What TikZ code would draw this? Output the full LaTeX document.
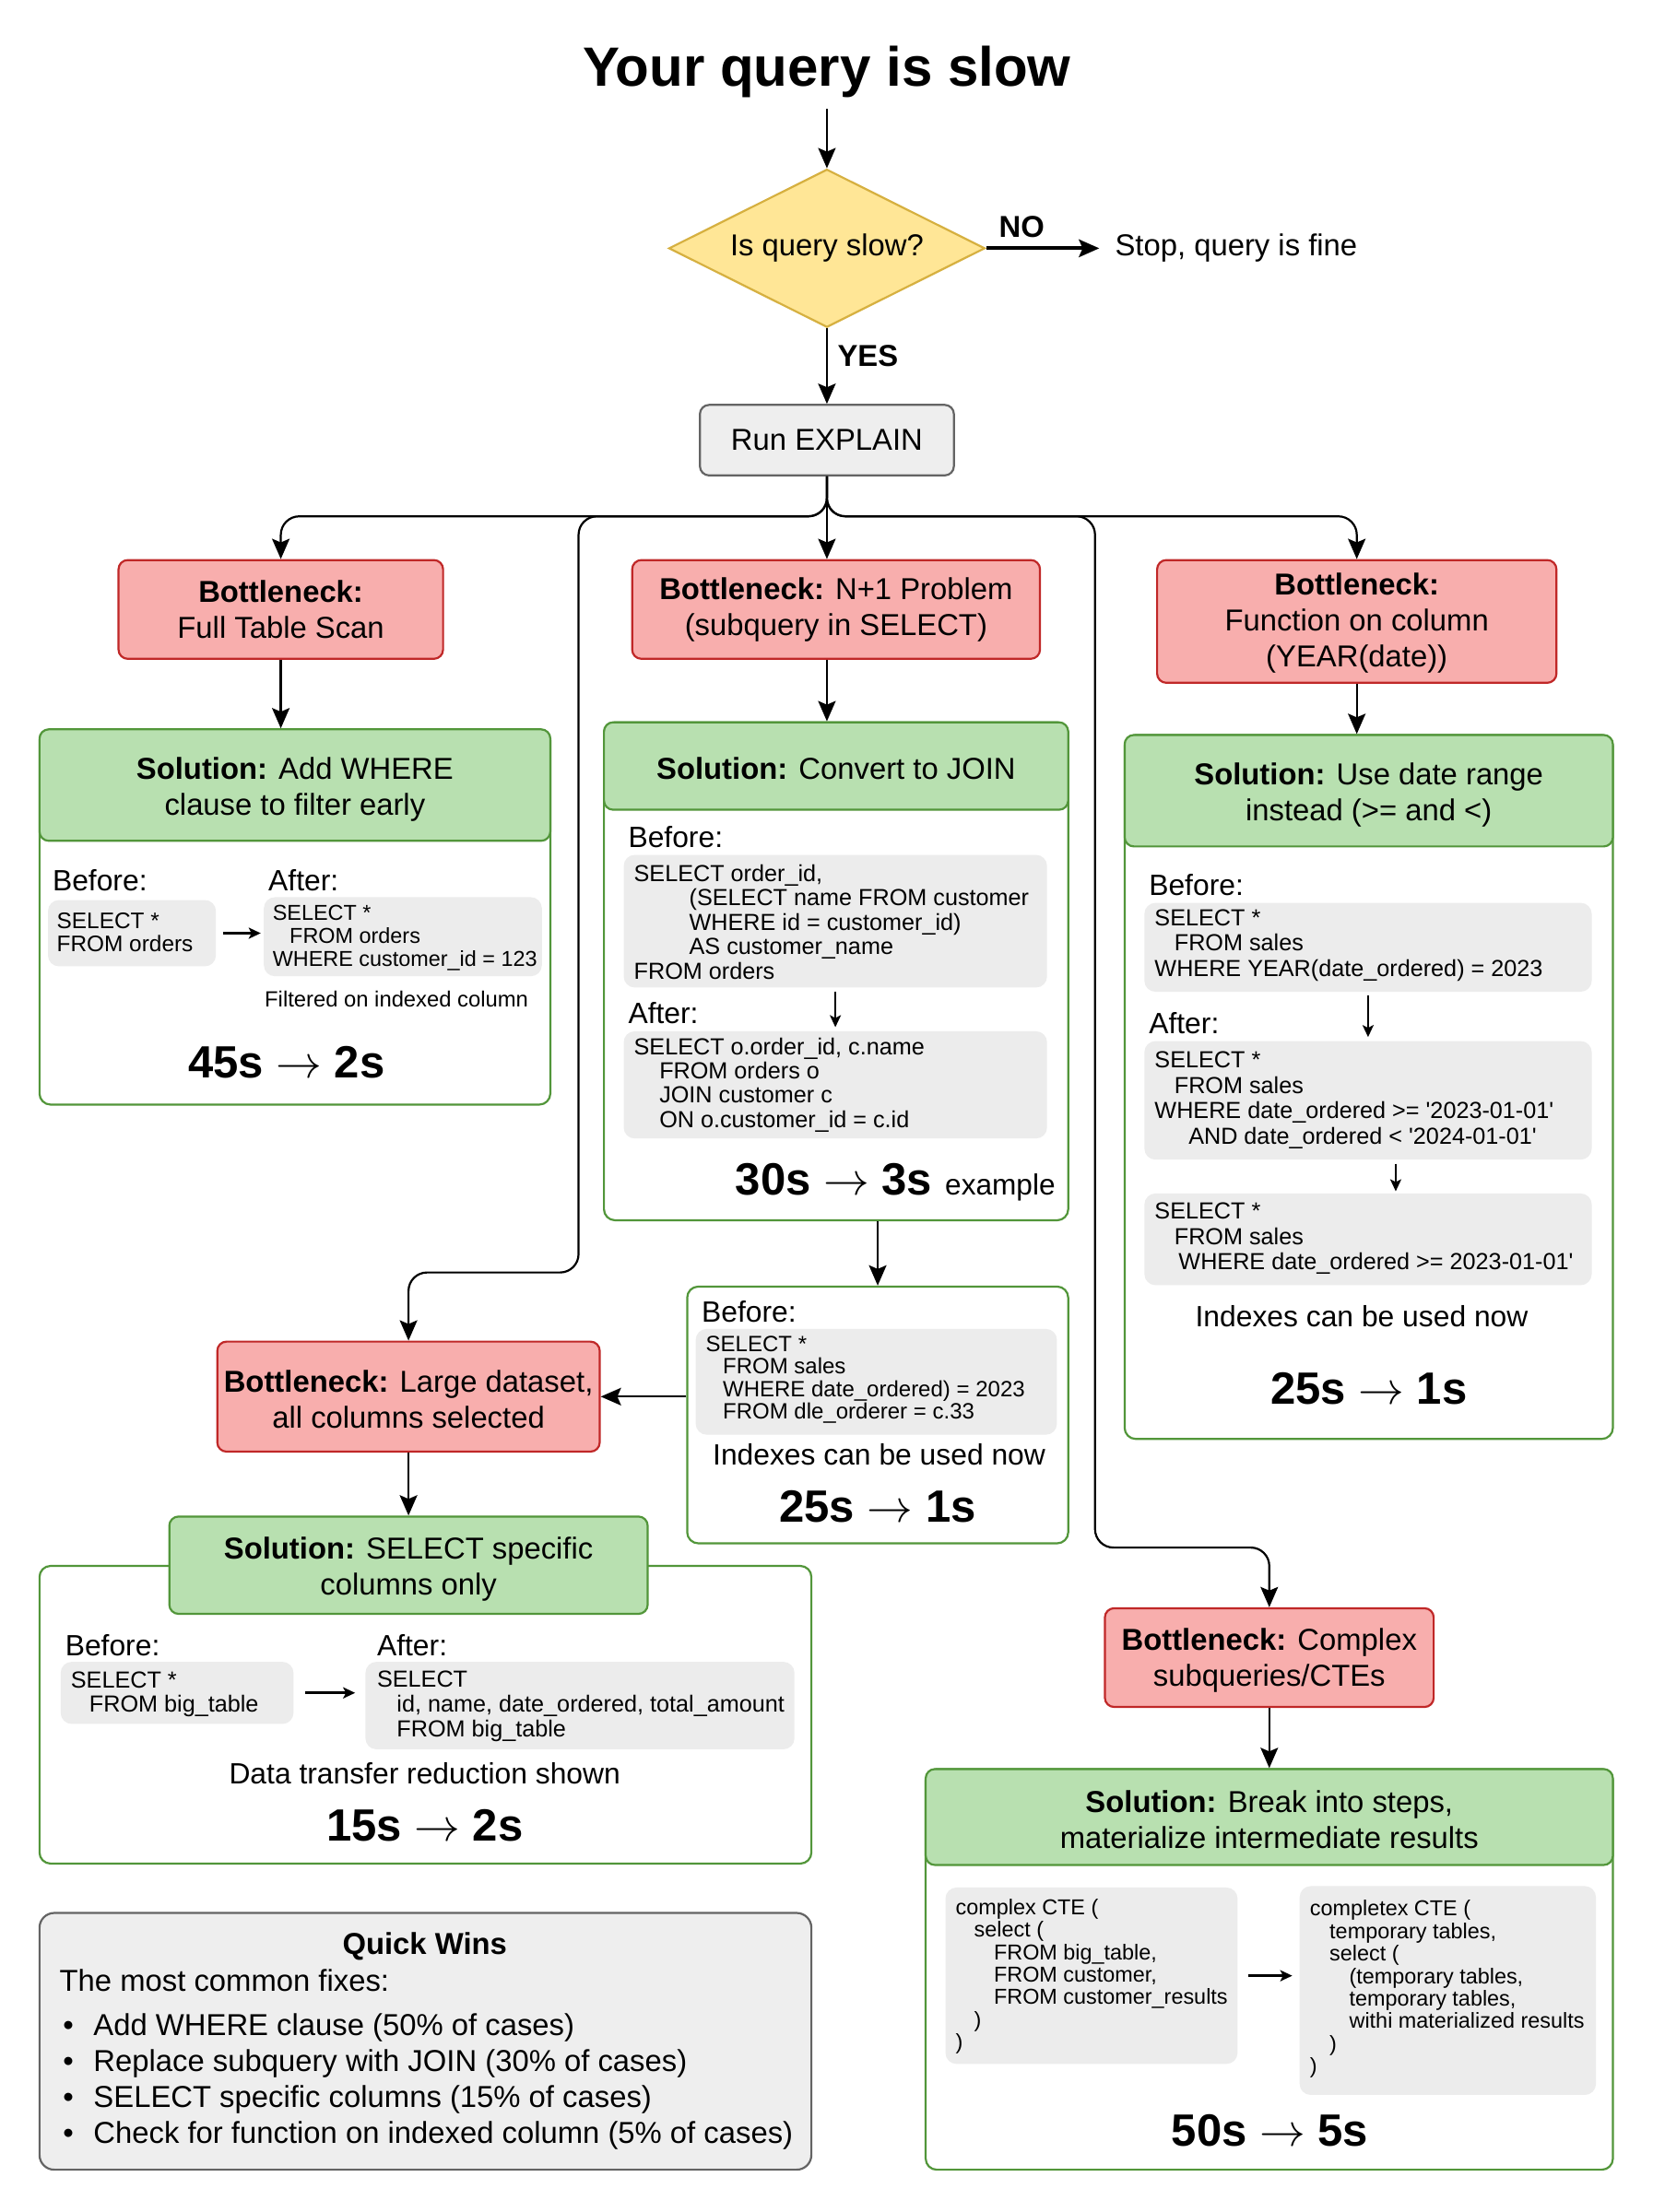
\documentclass[tikz,border=0pt]{standalone}
\usepackage{fontspec}
\setmainfont{Liberation Sans}
\usetikzlibrary{shapes.geometric,fit,arrows.meta,calc}
\definecolor{redfill}{RGB}{248,174,173}
\definecolor{redline}{RGB}{192,40,40}
\definecolor{greenfill}{RGB}{184,224,176}
\definecolor{greenline}{RGB}{82,150,58}
\definecolor{yelfill}{RGB}{255,230,150}
\definecolor{yelline}{RGB}{214,176,64}
\definecolor{grayfill}{RGB}{238,238,238}
\definecolor{grayline}{RGB}{100,100,100}
\definecolor{codefill}{RGB}{236,236,236}
\newcommand\fmain{\fontsize{16.4}{19.5}\selectfont}
\newcommand\fmed{\fontsize{15.9}{19}\selectfont}
\newcommand\fsmall{\fontsize{11.9}{14}\selectfont}
\newcommand\fcode{\fontsize{12.4}{13}\selectfont}
\newcommand\fbig{\fontsize{24.5}{28}\selectfont\bfseries}
\newcommand\ftitle{\fontsize{30}{34}\selectfont\bfseries}
\newcommand\apos{\textquotesingle}
\newcommand\qwbul{\makebox[18.4pt][l]{\hspace{1.8pt}•}}
\tikzset{
  bx/.style={inner sep=0, rounded corners=5pt, line width=1.1pt},
  redbox/.style={bx, draw=redline, fill=redfill},
  solout/.style={draw=greenline, fill=white, rounded corners=6pt, line width=1.1pt, inner sep=0},
  solhead/.style={bx, draw=greenline, fill=greenfill},
  boxtext/.style={inner sep=0, align=center, font=\fmain},
  codebg/.style={fill=codefill, rounded corners=6pt, inner sep=0},
  codetxt/.style={inner sep=0, align=left, anchor=west, font=\fcode},
  lbl/.style={inner sep=0, font=\fmed},
  bigtxt/.style={inner sep=0, font=\fbig},
  arr/.style={-{Stealth[length=11pt,width=9.5pt,inset=2pt]}, line width=1.1pt, rounded corners=10pt},
  arrs/.style={-{Stealth[length=6.5pt,width=6pt,inset=1.5pt]}, line width=1pt},
}
\begin{document}
\begin{tikzpicture}[x=0.765pt, y=-0.765pt]
\path[use as bounding box, fill=white] (0,0) rectangle (1171,1568);

% top
\node[inner sep=0, font=\ftitle, anchor=base] (title) at (586,61) {Your query is slow};
\node[diamond, aspect=2, minimum width=171.4pt, minimum height=85.7pt, inner sep=0,
      draw=yelline, fill=yelfill, line width=1.1pt, font=\fmain] (dia) at (586,176) {Is query slow?};
\node[inner sep=0, font=\fmain, anchor=west] (stop) at (790,176) {Stop, query is fine};
\node[inner sep=0, font=\fmain\bfseries] (no) at (724,161) {NO};
\node[inner sep=0, font=\fmain\bfseries] (yes) at (615,252) {YES};
\node[bx, draw=grayline, fill=grayfill, fit={(496,287)(676,337)}] (run) {};
\node[boxtext] (runt) at (run.center) {Run EXPLAIN};

\draw[arr, shorten <=6pt] (title.south) -- (dia.north);
\draw[arr, line width=2pt, shorten >=8.4pt] (dia.east) -- (stop.west);
\draw[arr] (dia.south) -- (run.north);

% bottlenecks
\node[redbox, fit={(84,397)(314,467)}] (b1) {};
\node[boxtext] (b1t) at (b1.center) {\textbf{Bottleneck:}\\Full Table Scan};
\node[redbox, fit={(448,397)(737,467)}] (b2) {};
\node[boxtext] (b2t) at (b2.center) {\textbf{Bottleneck:} N+1 Problem\\(subquery in SELECT)};
\node[redbox, fit={(820,397)(1103,484)}] (b3) {};
\node[boxtext] (b3t) at ($(b3.center)+(0,1)$) {\textbf{Bottleneck:}\\Function on column\\(YEAR(date))};
\node[redbox, fit={(154,951)(425,1029)}] (b4) {};
\node[boxtext] (b4t) at ($(b4.center)+(0,2)$) {\textbf{Bottleneck:} Large dataset,\\all columns selected};
\node[redbox, fit={(783,1140)(1016,1210)}] (b5) {};
\node[boxtext] (b5t) at ($(b5.center)+(0,2)$) {\textbf{Bottleneck:} Complex\\subqueries/CTEs};

\draw[arr] (run.south) -- (586,366) -| (b1.north);
\draw[arr] (run.south) -- (run.south |- b2.north);
\draw[arr] (run.south) -- (586,366) -| (b3.north);
\draw[arr] (run.south) -- (586,366) -- (410,366) -- (410,902) -| (b4.north);
\draw[arr] (run.south) -- (586,366) -- (776,366) -- (776,1097) -| (b5.north);

% solution 1
\node[solout, fit={(28,517)(390,783)}] (s1) {};
\node[solhead, fit={(28,517)(390,596)}] (s1h) {};
\node[boxtext] (s1ht) at ($(s1h.center)+(0,3)$) {\textbf{Solution:} Add WHERE\\clause to filter early};
\draw[arr] (b1.south) -- (b1.south |- s1h.north);
\node[lbl, anchor=west] (s1bf) at (37,624) {Before:};
\node[lbl, anchor=west] (s1af) at (190,624) {After:};
\node[codebg, fit={(34,638)(153,685)}] (c1a) {};
\node[codetxt, font=\fontsize{12.2}{12.8}\selectfont] (t1a) at (40,661) {SELECT *\\FROM orders};
\node[codebg, fit={(187,636)(384,692)}] (c1b) {};
\node[codetxt, font=\fontsize{11.7}{12.6}\selectfont] (t1b) at (193,665) {SELECT *\\\hspace*{9.2pt}FROM orders\\WHERE customer\_id = 123};
\draw[arrs, line width=1.3pt, shorten <=3.8pt, shorten >=1.5pt] (c1a.east) -- (c1b.west |- c1a.east);
\node[inner sep=0, font=\fsmall] (f1) at (281,708) {Filtered on indexed column};
\node[bigtxt] (r1) at (203,753) {45s $\rightarrow$ 2s};

% solution 2
\node[solout, fit={(428,512)(757,865)}] (s2) {};
\node[solhead, fit={(428,512)(757,574)}] (s2h) {};
\node[boxtext] (s2ht) at ($(s2h.center)+(0,2)$) {\textbf{Solution:} Convert to JOIN};
\draw[arr] (run.south |- b2.south) -- (run.south |- s2h.north);
\node[lbl, anchor=west] (s2bf) at (445,593) {Before:};
\node[codebg, fit={(442,606)(742,700)}] (c2a) {};
\node[codetxt, font=\fontsize{12.6}{13.2}\selectfont] (t2a) at (449,653.5) {SELECT order\_id,\\\hspace*{30pt}(SELECT name FROM customer\\\hspace*{30pt}WHERE id = customer\_id)\\\hspace*{30pt}AS customer\_name\\FROM orders};
\node[lbl, anchor=west] (s2af) at (445,718) {After:};
\node[codebg, fit={(442,731)(742,807)}] (c2b) {};
\node[codetxt, font=\fontsize{12.6}{13.2}\selectfont] (t2b) at (449,769) {SELECT o.order\_id, c.name\\\hspace*{13.8pt}FROM orders o\\\hspace*{13.8pt}JOIN customer c\\\hspace*{13.8pt}ON o.customer\_id = c.id};
\draw[arrs, shorten <=2pt, shorten >=2pt] (c2a.south) -- (c2b.north);
\node[inner sep=0, anchor=west] (r2) at (521,838) {{\fbig 30s $\rightarrow$ 3s}\hspace{7pt}{\fontsize{15.8}{18}\selectfont example}};

% solution 3
\node[solout, fit={(797,521)(1143,1020)}] (s3) {};
\node[solhead, fit={(797,521)(1143,600)}] (s3h) {};
\node[boxtext] (s3ht) at ($(s3h.center)+(0,3)$) {\textbf{Solution:} Use date range\\instead (>= and <)};
\draw[arr] (b3.south) -- (b3.south |- s3h.north);
\node[lbl, anchor=west] (s3bf) at (814,627) {Before:};
\node[codebg, fit={(811,640)(1128,703)}] (c3a) {};
\node[codetxt, font=\fontsize{12.6}{13.8}\selectfont] (t3a) at (818,670) {SELECT *\\\hspace*{10.7pt}FROM sales\\WHERE YEAR(date\_ordered) = 2023};
\node[lbl, anchor=west] (s3af) at (814,725) {After:};
\node[codebg, fit={(811,738)(1128,822)}] (c3b) {};
\node[codetxt, font=\fontsize{12.6}{13.8}\selectfont] (t3b) at (818,780) {SELECT *\\\hspace*{10.7pt}FROM sales\\WHERE date\_ordered >= \apos 2023-01-01\apos\\\hspace*{18.4pt}AND date\_ordered < \apos 2024-01-01\apos};
\draw[arrs, shorten <=2pt, shorten >=2pt] (c3a.south) -- (c3b.north);
\node[codebg, fit={(811,846)(1128,911)}] (c3c) {};
\node[codetxt, font=\fontsize{12.6}{13.8}\selectfont] (t3c) at (818,878) {SELECT *\\\hspace*{10.7pt}FROM sales\\\hspace*{13pt}WHERE date\_ordered >= 2023-01-01\apos};
\draw[arrs, shorten <=2pt, shorten >=1pt] ([xshift=15pt]c3b.south) -- ([xshift=15pt]c3c.north);
\node[lbl] (i3) at (965,933) {Indexes can be used now};
\node[bigtxt] (r3) at (970,984) {25s $\rightarrow$ 1s};

% middle before box
\node[solout, fit={(487,912)(757,1094)}] (m) {};
\draw[arr] (m.north |- s2.south) -- (m.north);
\draw[arr] (m.west |- b4.east) -- (b4.east);
\node[lbl, anchor=west] (mbf) at (497,930) {Before:};
\node[codebg, fit={(493,942)(749,1017)}] (cm) {};
\node[codetxt, font=\fontsize{12}{12.3}\selectfont] (tm) at (500,978) {SELECT *\\\hspace*{9.2pt}FROM sales\\\hspace*{9.2pt}WHERE date\_ordered) = 2023\\\hspace*{9.2pt}FROM dle\_orderer = c.33};
\node[lbl] (im) at (623,1031) {Indexes can be used now};
\node[bigtxt] (rm) at (622,1068) {25s $\rightarrow$ 1s};

% solution 4
\node[solout, fit={(28,1110)(575,1321)}] (s4) {};
\node[solhead, fit={(120,1075)(459,1144)}] (s4h) {};
\node[boxtext] (s4ht) at ($(s4h.center)+(0,3)$) {\textbf{Solution:} SELECT specific\\columns only};
\draw[arr] (b4.south) -- (s4h.north);
\node[lbl, anchor=west] (s4bf) at (46,1166) {Before:};
\node[lbl, anchor=west] (s4af) at (267,1166) {After:};
\node[codebg, fit={(43,1178)(208,1222)}] (c4a) {};
\node[codetxt, font=\fontsize{12.6}{13.4}\selectfont] (t4a) at (50,1201) {SELECT *\\\hspace*{10pt}FROM big\_table};
\node[codebg, fit={(259,1178)(563,1240)}] (c4b) {};
\node[codetxt, font=\fontsize{12.6}{13.4}\selectfont] (t4b) at (267,1209.5) {SELECT\\\hspace*{10.7pt}id, name, date\_ordered, total\_amount\\\hspace*{10.7pt}FROM big\_table};
\draw[arrs, line width=1.4pt, shorten <=6pt, shorten >=5.4pt] (c4a.east) -- (c4b.west |- c4a.east);
\node[lbl] (d4) at (301,1257) {Data transfer reduction shown};
\node[bigtxt] (r4) at (301,1294) {15s $\rightarrow$ 2s};

% solution 5
\node[solout, fit={(656,1254)(1143,1538)}] (s5) {};
\node[solhead, fit={(656,1254)(1143,1322)}] (s5h) {};
\node[boxtext] (s5ht) at ($(s5h.center)+(0,2)$) {\textbf{Solution:} Break into steps,\\materialize intermediate results};
\draw[arr] (b5.south) -- (s5h.north);
\node[codebg, fit={(670,1338)(877,1463)}] (c5a) {};
\node[codetxt, font=\fontsize{11.7}{12.2}\selectfont] (t5a) at (677,1401) {complex CTE (\\\hspace*{10pt}select (\\\hspace*{20.7pt}FROM big\_table,\\\hspace*{20.7pt}FROM customer,\\\hspace*{20.7pt}FROM customer\_results\\\hspace*{10pt})\\)};
\node[codebg, fit={(921,1337)(1131,1485)}] (c5b) {};
\node[codetxt, font=\fontsize{11.7}{12.2}\selectfont] (t5b) at (928,1410) {completex CTE (\\\hspace*{10.7pt}temporary tables,\\\hspace*{10.7pt}select (\\\hspace*{21.4pt}(temporary tables,\\\hspace*{21.4pt}temporary tables,\\\hspace*{21.4pt}withi materialized results\\\hspace*{10.7pt})\\)};
\draw[arrs, line width=1.4pt, shorten <=5.4pt, shorten >=3.8pt] (c5a.east) -- (c5b.west |- c5a.east);
\node[bigtxt] (r5) at (900,1510) {50s $\rightarrow$ 5s};

% quick wins
\node[bx, draw=grayline, fill=grayfill, rounded corners=8pt, fit={(28,1356)(575,1538)}] (qw) {};
\node[inner sep=0, font=\fmain\bfseries] (qwt) at (301,1380) {Quick Wins};
\node[inner sep=0, font=\fmain, anchor=west, align=left] (qwl) at (42,1460) {The most common fixes:\\[4.4pt]\qwbul Add WHERE clause (50\% of cases)\\\qwbul Replace subquery with JOIN (30\% of cases)\\\qwbul SELECT specific columns (15\% of cases)\\\qwbul Check for function on indexed column (5\% of cases)};
\end{tikzpicture}
\end{document}
